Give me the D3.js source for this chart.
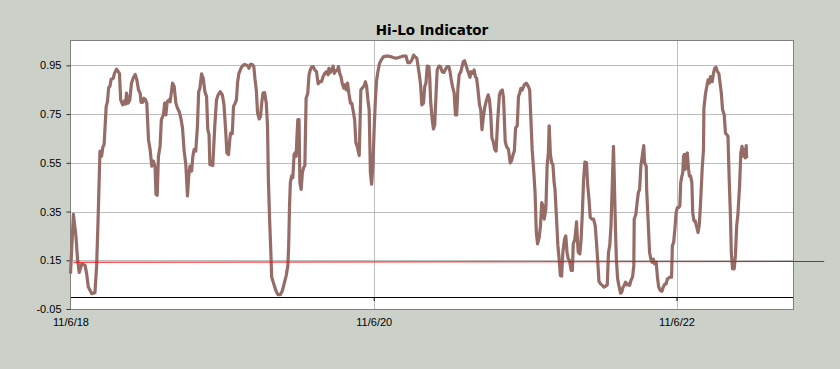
<!DOCTYPE html>
<html>
<head>
<meta charset="utf-8">
<script src="https://cdn.jsdelivr.net/npm/d3@7"></script>
<style>
  html, body { margin: 0; padding: 0; background: #cbd0c9; }
  svg { display: block; }
</style>
</head>
<body>
<div id="chart"></div>
<script>
// dates of the x domain and its tick labels
const startDate  = "2018-11-06",
      endDate    = "2023-08-15",
      xTickDates = ["2018-11-06", "2020-11-06", "2022-11-06"];

const yTicks     = [-0.05, 0.15, 0.35, 0.55, 0.75, 0.95];
const gridLevels = [0.15, 0.35, 0.55, 0.75, 0.95];

// Hi-Lo indicator, days after startDate
const dayOffsets = [
  0, 7, 13, 17, 21, 27, 35, 39, 43, 51, 59, 63, 67, 71, 75, 78, 81, 86, 89, 92, 95, 98, 103, 106, 111, 118,
  121, 126, 130, 133, 135, 139, 143, 147, 151, 156, 160, 164, 168, 170, 174, 177, 180, 184, 188, 192, 196,
  200, 204, 206, 209, 212, 216, 219, 224, 227, 230, 233, 237, 240, 243, 246, 250, 254, 258, 262, 266, 270,
  274, 278, 282, 285, 288, 292, 295, 298, 302, 306, 309, 312, 316, 320, 324, 328, 331, 334, 336, 343,
  348, 352, 356, 361, 366, 370, 374, 377, 381, 384, 386, 390, 393, 397, 400, 403, 406, 411, 414, 420, 424,
  428, 430, 434, 438, 442, 445, 448, 451, 455, 458, 461, 464, 468, 472, 475, 477, 480, 483, 485, 490, 495,
  500, 506, 511, 516, 520, 524, 526, 528, 530, 533, 536, 539, 541, 544, 546, 548, 551, 553, 556, 559, 562,
  565, 568, 572, 575, 578, 581, 585, 589, 593, 597, 601, 605, 609, 613, 617, 621, 623, 626, 630, 633, 636,
  639, 643, 646, 649, 652, 655, 659, 662, 665, 668, 671, 675, 678, 681, 685, 688, 691,
  696, 700, 703, 708, 711, 714, 717, 720, 723, 726, 729, 732, 735, 738, 741, 745, 749, 754, 761, 767, 773,
  778, 785, 791, 797, 802, 809, 813, 818, 823, 827, 831, 835, 838, 841, 844, 847, 851, 854, 857, 860, 864,
  866, 868, 872, 875, 878, 881, 884, 888, 892, 896, 900, 904, 908, 912, 915, 918, 921, 925, 928, 931, 934,
  937, 941, 944, 947, 950, 954, 957, 960, 963, 966, 970, 973, 976, 979, 982, 986, 989, 992, 995, 999, 1003,
  1007, 1010, 1013, 1016, 1019, 1023, 1026, 1030, 1034,
  1037, 1041, 1044, 1048, 1051, 1056, 1060, 1063, 1067, 1070, 1073, 1077, 1080, 1083, 1086, 1089, 1094,
  1099, 1104, 1107, 1110, 1113, 1117, 1120, 1123, 1126, 1130, 1133, 1136, 1139, 1142, 1146, 1149, 1152,
  1154, 1157, 1160, 1163, 1166, 1168, 1171, 1175, 1178, 1181, 1184, 1187, 1191, 1194, 1197, 1200, 1203,
  1207, 1210, 1212, 1216, 1220, 1222, 1224, 1228, 1231, 1234, 1237, 1240, 1244, 1247, 1250, 1253, 1257,
  1261, 1265, 1268, 1271, 1274, 1278, 1282, 1286, 1290, 1294, 1297, 1300, 1303, 1306, 1309, 1311, 1314,
  1316, 1319, 1322, 1326, 1329, 1332, 1335, 1338, 1342, 1345, 1348, 1351, 1355, 1358, 1359, 1363, 1366,
  1369, 1372, 1375, 1379,
  1382, 1384, 1388, 1389, 1392, 1396, 1399, 1402, 1405, 1408, 1412, 1415, 1418, 1422, 1426, 1429, 1433,
  1436, 1439, 1442, 1445, 1449, 1451, 1454, 1457, 1460, 1463, 1466, 1469, 1471, 1474, 1476, 1478, 1480,
  1482, 1485, 1487, 1490, 1492, 1495, 1498, 1500, 1503, 1506, 1510, 1513, 1516, 1519, 1523, 1526, 1527,
  1531, 1534, 1537, 1540, 1543, 1547, 1550, 1553, 1556, 1560, 1563, 1566, 1569, 1572, 1576, 1579, 1582,
  1585, 1588, 1591, 1593, 1596, 1600, 1603, 1606, 1609, 1613, 1616, 1619, 1621, 1624, 1627, 1629, 1630
];

const hiLo = [
  0.095, 0.339, 0.25, 0.155, 0.10, 0.135, 0.13, 0.094, 0.04, 0.013, 0.017, 0.128, 0.346, 0.598, 0.577, 0.615,
  0.625, 0.781, 0.80, 0.859, 0.863, 0.893, 0.897, 0.917, 0.934, 0.917,
  0.808, 0.788, 0.804, 0.791, 0.836, 0.795, 0.808, 0.877, 0.897, 0.913, 0.89, 0.849, 0.836, 0.798, 0.798,
  0.815, 0.811, 0.795, 0.645, 0.604, 0.536,
  0.557, 0.53, 0.421, 0.417, 0.577, 0.618, 0.727, 0.747, 0.795, 0.747, 0.80, 0.808, 0.80, 0.836, 0.877,
  0.863, 0.795, 0.774, 0.761, 0.734, 0.693,
  0.598, 0.543, 0.414, 0.495, 0.536, 0.516, 0.577, 0.604, 0.598, 0.70, 0.842, 0.856, 0.915, 0.897, 0.842,
  0.822, 0.686, 0.666, 0.543, 0.539,
  0.706, 0.808, 0.829, 0.842, 0.829, 0.788, 0.686, 0.591, 0.584, 0.645, 0.672, 0.67, 0.781, 0.795, 0.808,
  0.883, 0.917, 0.938, 0.947, 0.954, 0.951,
  0.947, 0.938, 0.954, 0.954, 0.945, 0.89, 0.849, 0.754, 0.73, 0.74, 0.795, 0.836, 0.838, 0.795, 0.70, 0.482,
  0.319, 0.183, 0.081, 0.053, 0.026,
  0.009, 0.009, 0.026, 0.06, 0.087, 0.128, 0.21, 0.373, 0.468, 0.496, 0.489, 0.584, 0.591, 0.577, 0.659,
  0.727, 0.727, 0.468, 0.441, 0.509, 0.53,
  0.539, 0.815, 0.836, 0.911, 0.931, 0.942, 0.945, 0.931, 0.924, 0.874, 0.883, 0.883, 0.904, 0.917, 0.924,
  0.911, 0.938, 0.92, 0.931, 0.947, 0.917,
  0.928, 0.928, 0.945, 0.917, 0.904, 0.877, 0.856, 0.87, 0.849, 0.877, 0.836, 0.795, 0.795, 0.768, 0.727,
  0.632, 0.618,
  0.58, 0.849, 0.856, 0.866, 0.883, 0.863, 0.808, 0.768, 0.509, 0.462, 0.536, 0.686, 0.808, 0.89, 0.924,
  0.958, 0.972, 0.985, 0.988, 0.988, 0.985,
  0.982, 0.979, 0.982, 0.985, 0.988, 0.988, 0.961, 0.961, 0.972, 0.992, 0.985, 0.979, 0.945, 0.911, 0.87,
  0.788, 0.795, 0.863, 0.877, 0.947, 0.945,
  0.904, 0.808, 0.727, 0.689, 0.706, 0.822, 0.931, 0.947, 0.945, 0.924, 0.921, 0.934, 0.945, 0.945, 0.924,
  0.89, 0.863, 0.836, 0.747, 0.747, 0.856,
  0.911, 0.924, 0.945, 0.965, 0.969, 0.947, 0.931, 0.917, 0.901, 0.924, 0.917, 0.931, 0.904, 0.897, 0.856,
  0.788, 0.768, 0.686, 0.734, 0.781, 0.808,
  0.829, 0.808, 0.754, 0.652, 0.638, 0.604, 0.598, 0.727, 0.829,
  0.842, 0.849, 0.815, 0.638, 0.618, 0.604, 0.55, 0.557, 0.584, 0.598, 0.693, 0.702, 0.822, 0.836, 0.856,
  0.849, 0.87,
  0.877, 0.863, 0.849, 0.727, 0.604, 0.509, 0.428, 0.264, 0.217, 0.244, 0.291, 0.387, 0.373, 0.319, 0.36,
  0.536, 0.591,
  0.702, 0.584, 0.55, 0.543, 0.468, 0.441, 0.346, 0.21, 0.155, 0.087, 0.085, 0.183, 0.237, 0.25, 0.183,
  0.155, 0.149,
  0.108, 0.108, 0.217, 0.237, 0.308, 0.237, 0.183, 0.176, 0.237, 0.346, 0.482, 0.553, 0.55, 0.455, 0.40,
  0.326, 0.319,
  0.319, 0.291, 0.223, 0.149, 0.063, 0.053, 0.047, 0.04, 0.044, 0.049, 0.183, 0.21, 0.291, 0.455, 0.618,
  0.482, 0.264,
  0.155, 0.074, 0.047, 0.015, 0.019, 0.04, 0.047, 0.06, 0.049, 0.053, 0.047, 0.067, 0.081, 0.128, 0.319,
  0.339, 0.387,
  0.428, 0.441, 0.536, 0.584,
  0.621, 0.55, 0.536, 0.441, 0.332, 0.183, 0.155, 0.142, 0.155, 0.135, 0.142, 0.081, 0.04, 0.026, 0.023,
  0.04, 0.053,
  0.053, 0.074, 0.077, 0.081, 0.081, 0.21, 0.223, 0.278, 0.346, 0.366, 0.366, 0.373, 0.468, 0.496, 0.509,
  0.577, 0.584,
  0.523, 0.584, 0.591, 0.523, 0.496, 0.496, 0.468, 0.346, 0.312, 0.312, 0.285, 0.264, 0.298, 0.387, 0.53,
  0.604, 0.774,
  0.836, 0.863, 0.89, 0.877, 0.904, 0.883, 0.917, 0.938, 0.942, 0.924, 0.917, 0.877, 0.836, 0.768, 0.747,
  0.672, 0.666,
  0.659, 0.482, 0.332, 0.183, 0.115, 0.115, 0.169, 0.291, 0.339, 0.455, 0.591, 0.618, 0.577, 0.604, 0.57,
  0.621, 0.57
];

// red signal line
const signalDays  = [7, 1817],
      signalLevel = [0.142, 0.145];


const width  = 840,
      height = 369,
      plot   = {left: 70, top: 40, right: 793, bottom: 309},
      font   = '"Liberation Sans", Arial, sans-serif';

const parseDate = d3.timeParse("%Y-%m-%d"),
      start     = parseDate(startDate);

const x = d3.scaleTime()
  .domain([start, parseDate(endDate)])
  .range([plot.left + 0.5, plot.right + 0.5]);

const y = d3.scaleLinear()
  .domain([-0.05, 1.05])
  .range([309, 41]);

const crisp = function (v) { return Math.round(v) + 0.5; };

const points = dayOffsets.map(function (d, i) {
  return {date: d3.timeDay.offset(start, d), value: hiLo[i]};
});
const signal = signalDays.map(function (d, i) {
  return {date: d3.timeDay.offset(start, d), value: signalLevel[i]};
});

const svg = d3.select("#chart").append("svg")
  .attr("width", width)
  .attr("height", height);

svg.append("rect")
  .attr("width", width)
  .attr("height", height)
  .attr("fill", "#cbd0c9");

// plot background
svg.append("rect")
  .attr("x", plot.left + 0.5)
  .attr("y", plot.top + 0.5)
  .attr("width", plot.right - plot.left)
  .attr("height", plot.bottom - plot.top)
  .attr("fill", "#fff");

// horizontal grid
svg.append("g").selectAll("line")
  .data(gridLevels)
  .join("line")
  .attr("x1", plot.left)
  .attr("x2", plot.right)
  .attr("y1", function (d) { return crisp(y(d)); })
  .attr("y2", function (d) { return crisp(y(d)); })
  .attr("stroke", "#bdbdbd")
  .attr("stroke-width", 1);

// vertical grid
svg.append("g").selectAll("line")
  .data(xTickDates.slice(1).map(parseDate))
  .join("line")
  .attr("x1", function (d) { return crisp(x(d)); })
  .attr("x2", function (d) { return crisp(x(d)); })
  .attr("y1", plot.top)
  .attr("y2", plot.bottom)
  .attr("stroke", "#bdbdbd")
  .attr("stroke-width", 1);

// zero line with its ticks
const zeroY = crisp(y(0));
svg.append("line")
  .attr("x1", plot.left)
  .attr("x2", plot.right)
  .attr("y1", zeroY)
  .attr("y2", zeroY)
  .attr("stroke", "#000")
  .attr("stroke-width", 1);

svg.append("g")
  .attr("transform", `translate(0, ${zeroY - 0.5})`)
  .call(d3.axisBottom(x)
    .tickValues(xTickDates.slice(1).map(parseDate))
    .tickSize(4)
    .tickFormat(""))
  .call(g => g.select(".domain").remove())
  .call(g => g.selectAll(".tick line").attr("stroke", "#000"));

// frame
svg.append("rect")
  .attr("x", plot.left + 0.5)
  .attr("y", plot.top + 0.5)
  .attr("width", plot.right - plot.left)
  .attr("height", plot.bottom - plot.top)
  .attr("fill", "none")
  .attr("stroke", "#808080")
  .attr("stroke-width", 1);

// y axis
svg.append("g")
  .attr("transform", `translate(${plot.left + 0.5}, 0)`)
  .call(d3.axisLeft(y)
    .tickValues(yTicks)
    .tickSize(4)
    .tickPadding(5)
    .tickFormat(function (d) { return d.toFixed(2); }))
  .call(g => g.select(".domain").remove())
  .call(g => g.selectAll(".tick line").attr("stroke", "#333"))
  .call(g => g.selectAll(".tick text")
    .attr("fill", "#000")
    .style("font-family", font)
    .style("font-size", "11px"));

// x axis labels under the frame
svg.append("g")
  .attr("transform", `translate(0, ${plot.bottom})`)
  .call(d3.axisBottom(x)
    .tickValues(xTickDates.map(parseDate))
    .tickSize(0)
    .tickPadding(9)
    .tickFormat(d3.timeFormat("%-m/%-d/%y")))
  .call(g => g.select(".domain").remove())
  .call(g => g.selectAll(".tick text")
    .attr("fill", "#000")
    .style("font-family", font)
    .style("font-size", "11px"));

// Hi-Lo line
const line = d3.line()
  .x(function (d) { return x(d.date); })
  .y(function (d) { return y(d.value); });

svg.append("path")
  .datum(points)
  .attr("d", line)
  .attr("fill", "none")
  .attr("stroke", "#966c67")
  .attr("stroke-width", 3.2)
  .attr("stroke-linejoin", "round");

svg.append("path")
  .datum(signal)
  .attr("d", line)
  .attr("fill", "none")
  .attr("stroke", "#ff0000")
  .attr("stroke-width", 1);

// title
svg.append("text")
  .attr("x", (plot.left + plot.right) / 2 + 0.5)
  .attr("y", 35)
  .attr("text-anchor", "middle")
  .style("font-family", '"DejaVu Sans", Verdana, sans-serif')
  .style("font-weight", "bold")
  .style("font-size", "13.5px")
  .attr("fill", "#000")
  .text("Hi-Lo Indicator");
</script>
</body>
</html>
